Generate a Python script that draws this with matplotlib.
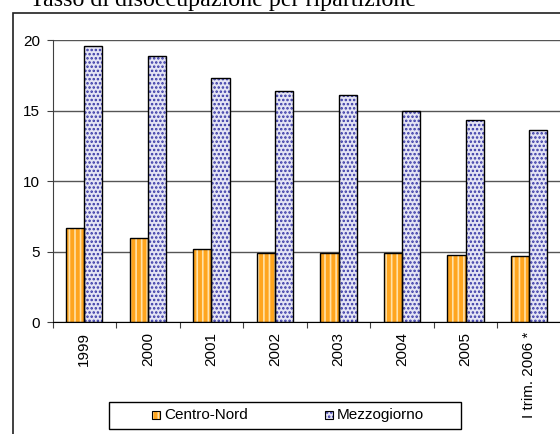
import matplotlib
matplotlib.use("Agg")
import matplotlib.pyplot as plt
from matplotlib.patches import Rectangle
import numpy as np

categories = ["1999", "2000", "2001", "2002", "2003", "2004", "2005", "I trim. 2006 *"]
centro_nord = [6.7, 6.0, 5.2, 4.9, 4.9, 4.9, 4.8, 4.7]
mezzogiorno = [19.6, 18.9, 17.3, 16.4, 16.1, 15.0, 14.3, 13.6]
series_names = ["Centro-Nord", "Mezzogiorno"]
title = "Tasso di disoccupazione per ripartizione"

plt.rcParams['font.family'] = ['Liberation Sans', 'DejaVu Sans']
plt.rcParams['hatch.linewidth'] = 1.2

W, H = 560, 434
fig = plt.figure(figsize=(W/100, H/100), dpi=100)

def fx(px):
    return px / W
def fy(py):
    return 1 - py / H

orange = '#FFA51E'
orange_h = '#FFE2A8'
blue_bg = '#E4E4F4'
blue_h = '#3535A5'

# outer chart frame
fig.patches.append(Rectangle((fx(12.5), fy(440)), fx(560), fy(13) - fy(440),
                             transform=fig.transFigure, fill=False,
                             edgecolor='#202020', lw=1.2, zorder=0))

fig.text(fx(30), fy(6), title, family='Liberation Serif', fontsize=17.3,
         ha='left', va='baseline')

ax = fig.add_axes([fx(52.5), fy(322.3), fx(561) - fx(52.5), fy(40) - fy(322.3)])
n = len(categories)
x = np.arange(n)
bw = 0.286

# Centro-Nord bars
ax.bar(x - bw/2, centro_nord, bw, color=orange, edgecolor=orange_h,
       hatch='|||', lw=0, zorder=3)
ax.bar(x - bw/2, centro_nord, bw, fill=False, edgecolor='black', lw=1.0, zorder=4)
# Mezzogiorno bars
ax.bar(x + bw/2, mezzogiorno, bw, color=blue_bg, edgecolor=blue_h,
       hatch='....', lw=0, zorder=3)
ax.bar(x + bw/2, mezzogiorno, bw, fill=False, edgecolor='black', lw=1.0, zorder=4)

ax.set_xlim(-0.5, n - 0.5)
ax.set_ylim(0, 20)
ax.set_yticks([0, 5, 10, 15, 20])
ax.set_yticklabels(['0', '5', '10', '15', '20'], fontsize=11)
ax.set_xticks(np.arange(n + 1) - 0.5)
ax.set_xticklabels([])
ax.set_xticks(x, minor=True)
ax.set_xticklabels(categories, minor=True, rotation=90, fontsize=11, va='top')
ax.tick_params(axis='x', which='minor', length=0, pad=7)
ax.tick_params(axis='x', which='major', length=4, direction='out', color='#404040')
ax.tick_params(axis='y', length=4, direction='out', color='#404040', pad=5)

ax.yaxis.grid(True, color='#555555', lw=1.0, zorder=1)
ax.set_axisbelow(True)
for s in ['top', 'right']:
    ax.spines[s].set_visible(False)
ax.spines['left'].set_color('#404040')
ax.spines['bottom'].set_color('black')
ax.spines['bottom'].set_zorder(5)

# legend drawn by hand to match the box geometry
fig.patches.append(Rectangle((fx(109), fy(429)), fx(461) - fx(109), fy(402) - fy(429),
                             transform=fig.transFigure, facecolor='white',
                             edgecolor='black', lw=1.0, zorder=5))
legend_items = [(152, orange, orange_h, '|||', series_names[0]),
                (325, blue_bg, blue_h, '....', series_names[1])]
for lx, fc, hc, hatch, label in legend_items:
    fig.patches.append(Rectangle((fx(lx), fy(419)), fx(8), fy(411) - fy(419),
                                 transform=fig.transFigure, facecolor=fc,
                                 edgecolor=hc, hatch=hatch, lw=0, zorder=6))
    fig.patches.append(Rectangle((fx(lx), fy(419)), fx(8), fy(411) - fy(419),
                                 transform=fig.transFigure, fill=False,
                                 edgecolor='black', lw=0.8, zorder=7))
    fig.text(fx(lx + 12), fy(415), label, fontsize=11, ha='left', va='center',
             zorder=7)

fig.savefig('out.png', dpi=100)
